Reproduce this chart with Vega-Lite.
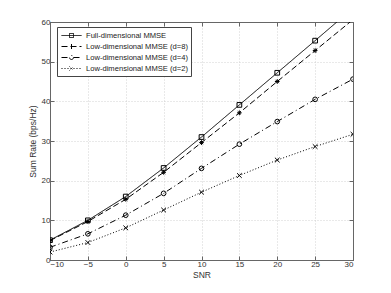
{
  "$schema": "https://vega.github.io/schema/vega-lite/v6.json",
  "width": 303,
  "height": 238,
  "autosize": {"type": "none"},
  "padding": {"left": 50, "top": 22, "right": 38, "bottom": 33},
  "background": "white",
  "config": {
    "view": {"stroke": "#666", "strokeWidth": 1},
    "font": "Liberation Sans",
    "axis": {
      "labelFont": "Liberation Sans",
      "titleFont": "Liberation Sans",
      "labelFontSize": 8,
      "titleFontSize": 8.5,
      "titleFontWeight": "normal",
      "labelColor": "#333",
      "titleColor": "#333",
      "domainColor": "#666",
      "tickColor": "#666",
      "tickSize": -4,
      "gridColor": "#c8c8c8",
      "gridDash": [1, 2],
      "gridWidth": 0.8
    }
  },
  "data": {
    "values": [
      {"snr": -10, "rate": 5.0, "series": "Full-dimensional MMSE"},
      {"snr": -5, "rate": 10.0, "series": "Full-dimensional MMSE"},
      {"snr": 0, "rate": 16.0, "series": "Full-dimensional MMSE"},
      {"snr": 5, "rate": 23.2, "series": "Full-dimensional MMSE"},
      {"snr": 10, "rate": 31.0, "series": "Full-dimensional MMSE"},
      {"snr": 15, "rate": 39.1, "series": "Full-dimensional MMSE"},
      {"snr": 20, "rate": 47.2, "series": "Full-dimensional MMSE"},
      {"snr": 25, "rate": 55.3, "series": "Full-dimensional MMSE"},
      {"snr": 30, "rate": 63.5, "series": "Full-dimensional MMSE"},
      {"snr": -10, "rate": 4.9, "series": "Low-dimensional MMSE (d=8)"},
      {"snr": -5, "rate": 9.7, "series": "Low-dimensional MMSE (d=8)"},
      {"snr": 0, "rate": 15.3, "series": "Low-dimensional MMSE (d=8)"},
      {"snr": 5, "rate": 22.1, "series": "Low-dimensional MMSE (d=8)"},
      {"snr": 10, "rate": 29.6, "series": "Low-dimensional MMSE (d=8)"},
      {"snr": 15, "rate": 37.1, "series": "Low-dimensional MMSE (d=8)"},
      {"snr": 20, "rate": 45.0, "series": "Low-dimensional MMSE (d=8)"},
      {"snr": 25, "rate": 52.8, "series": "Low-dimensional MMSE (d=8)"},
      {"snr": 30, "rate": 60.6, "series": "Low-dimensional MMSE (d=8)"},
      {"snr": -10, "rate": 3.2, "series": "Low-dimensional MMSE (d=4)"},
      {"snr": -5, "rate": 6.6, "series": "Low-dimensional MMSE (d=4)"},
      {"snr": 0, "rate": 11.3, "series": "Low-dimensional MMSE (d=4)"},
      {"snr": 5, "rate": 16.8, "series": "Low-dimensional MMSE (d=4)"},
      {"snr": 10, "rate": 23.1, "series": "Low-dimensional MMSE (d=4)"},
      {"snr": 15, "rate": 29.2, "series": "Low-dimensional MMSE (d=4)"},
      {"snr": 20, "rate": 34.9, "series": "Low-dimensional MMSE (d=4)"},
      {"snr": 25, "rate": 40.5, "series": "Low-dimensional MMSE (d=4)"},
      {"snr": 30, "rate": 45.6, "series": "Low-dimensional MMSE (d=4)"},
      {"snr": -10, "rate": 2.0, "series": "Low-dimensional MMSE (d=2)"},
      {"snr": -5, "rate": 4.4, "series": "Low-dimensional MMSE (d=2)"},
      {"snr": 0, "rate": 8.1, "series": "Low-dimensional MMSE (d=2)"},
      {"snr": 5, "rate": 12.6, "series": "Low-dimensional MMSE (d=2)"},
      {"snr": 10, "rate": 17.1, "series": "Low-dimensional MMSE (d=2)"},
      {"snr": 15, "rate": 21.3, "series": "Low-dimensional MMSE (d=2)"},
      {"snr": 20, "rate": 25.2, "series": "Low-dimensional MMSE (d=2)"},
      {"snr": 25, "rate": 28.6, "series": "Low-dimensional MMSE (d=2)"},
      {"snr": 30, "rate": 31.7, "series": "Low-dimensional MMSE (d=2)"}
    ]
  },
  "resolve": {"axis": {"x": "independent", "y": "independent"}},
  "layer": [
    {
      "mark": {"type": "line", "color": "black", "strokeWidth": 1, "clip": true},
      "encoding": {
        "x": {"field": "snr", "type": "quantitative", "scale": {"domain": [-10, 30], "nice": false, "zero": false},
              "axis": {"title": "SNR", "values": [-10, -5, 0, 5, 10, 15, 20, 25, 30], "labelPadding": 4, "titlePadding": 2}},
        "y": {"field": "rate", "type": "quantitative", "scale": {"domain": [0, 60], "nice": false},
              "axis": {"title": "Sum Rate (bps/Hz)", "values": [0, 10, 20, 30, 40, 50, 60], "labelPadding": 4, "titlePadding": 4}},
        "strokeDash": {
          "field": "series", "type": "nominal",
          "scale": {
            "domain": ["Full-dimensional MMSE", "Low-dimensional MMSE (d=8)", "Low-dimensional MMSE (d=4)", "Low-dimensional MMSE (d=2)"],
            "range": [[1, 0], [6, 3], [6, 3, 1, 3], [1, 2]]
          },
          "legend": {
            "title": null,
            "orient": "none",
            "legendX": 7,
            "legendY": 5,
            "direction": "vertical",
            "padding": 3,
            "strokeColor": "#444",
            "fillColor": "white",
            "labelFont": "Liberation Sans",
            "labelFontSize": 7.6,
            "labelColor": "#222",
            "symbolSize": 100,
            "symbolStrokeColor": "black",
            "symbolStrokeWidth": 1,
            "symbolOffset": 6,
            "labelOffset": 9,
            "rowPadding": 1,
            "encode": {
              "symbols": {
                "update": {
                  "shape": {"signal": "datum.value === 'Full-dimensional MMSE' ? 'M-2,0L2,0M-0.4,-0.4L0.4,-0.4L0.4,0.4L-0.4,0.4Z' : datum.value === 'Low-dimensional MMSE (d=8)' ? 'M-2,0L2,0M0,-0.5L0,0.5' : datum.value === 'Low-dimensional MMSE (d=4)' ? 'M-2,0L-0.4,0M0.4,0L2,0M0.4,0A0.4,0.4,0,1,1,-0.4,0A0.4,0.4,0,1,1,0.4,0' : 'M-2,0L2,0M-0.4,-0.4L0.4,0.4M-0.4,0.4L0.4,-0.4'"}
                }
              }
            }
          }
        }
      }
    },
    {
      "mark": {"type": "point", "filled": false, "color": "black", "strokeWidth": 1, "size": 22, "opacity": 1, "clip": true},
      "encoding": {
        "x": {"field": "snr", "type": "quantitative", "scale": {"domain": [-10, 30], "nice": false, "zero": false},
              "axis": {"orient": "top", "labels": false, "title": null, "grid": false, "values": [-10, -5, 0, 5, 10, 15, 20, 25, 30]}},
        "y": {"field": "rate", "type": "quantitative", "scale": {"domain": [0, 60], "nice": false},
              "axis": {"orient": "right", "labels": false, "title": null, "grid": false, "values": [0, 10, 20, 30, 40, 50, 60]}},
        "shape": {
          "field": "series", "type": "nominal",
          "scale": {
            "domain": ["Full-dimensional MMSE", "Low-dimensional MMSE (d=2)", "Low-dimensional MMSE (d=4)", "Low-dimensional MMSE (d=8)"],
            "range": ["square", "M-1,-1L1,1M-1,1L1,-1", "circle", "M-1,0L1,0M0,-1L0,1M-0.7,-0.7L0.7,0.7M-0.7,0.7L0.7,-0.7"]
          },
          "legend": null
        }
      }
    }
  ]
}
